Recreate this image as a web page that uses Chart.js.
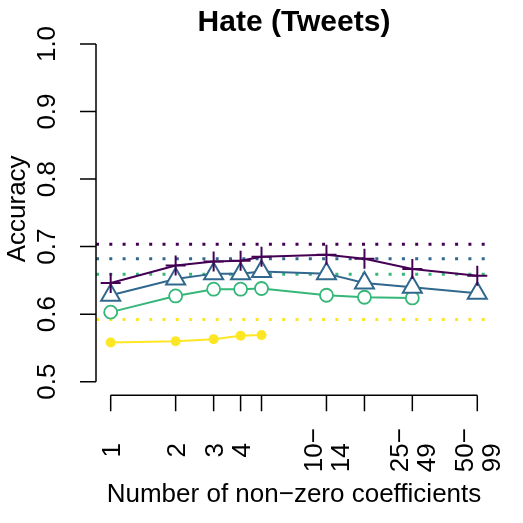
<!DOCTYPE html>
<html>
<head>
<meta charset="utf-8">
<script src="https://cdn.jsdelivr.net/npm/chart.js@4.4.1/dist/chart.umd.min.js"></script>
<style>
    body { margin: 0; background: #fff; }
</style>
</head>
<body>
<canvas id="hateChart" width="523" height="523"></canvas>
<script>
// number of non-zero coefficients (x positions, log scale)
const nonZero = [1, 2, 3, 4, 5, 10, 15, 25, 50];
const tickLabels = ['1', '2', '3', '4', '', '10−\n14', '', '25−\n49', '50−\n99'];
const yTicks = [0.5, 0.6, 0.7, 0.8, 0.9, 1.0];
const xLimits = [0.855, 58.5];
const yLimits = [0.48, 1.02];

// accuracy per series
const plusSeries = [0.646, 0.672, 0.678, 0.679, 0.685, 0.688, 0.682, 0.667, 0.657];
const triangleSeries = [0.628, 0.652, 0.660, 0.660, 0.663, 0.660, 0.646, 0.640, 0.631];
const circleSeries = [0.603, 0.627, 0.637, 0.637, 0.638, 0.628, 0.625, 0.624];
const dotSeries = [0.558, 0.560, 0.563, 0.568, 0.569];

// dotted reference levels, same colour order
const baselines = [0.7036, 0.682, 0.659, 0.592];
const colors = ['#440154', '#31688E', '#35B779', '#FDE725'];

const FONT = '"Liberation Sans", Arial, Helvetica, sans-serif';
const FS = 26;

const toPoints = values => values.map((v, i) => ({x: nonZero[i], y: v}));

const baselineSets = baselines.map((b, i) => ({
    data: [{x: xLimits[0], y: b}, {x: xLimits[1], y: b}],
    borderColor: colors[i],
    borderWidth: 3,
    borderDash: [3, 10.3],
    pointRadius: 0,
    order: 10 + i
}));

const rStyleAxes = {
    id: 'rStyleAxes',
    afterDraw(chart) {
        const {ctx, chartArea, scales: {x, y}} = chart;
        const left = chartArea.left;
        const bottom = chartArea.bottom;
        ctx.save();
        ctx.strokeStyle = '#000';
        ctx.fillStyle = '#000';
        ctx.lineWidth = 1.5;
        ctx.beginPath();
        // y axis
        ctx.moveTo(left, y.getPixelForValue(yTicks[0]));
        ctx.lineTo(left, y.getPixelForValue(yTicks[yTicks.length - 1]));
        yTicks.forEach(v => {
            const py = y.getPixelForValue(v);
            ctx.moveTo(left, py);
            ctx.lineTo(left - 16, py);
        });
        // x axis
        ctx.moveTo(x.getPixelForValue(nonZero[0]), bottom);
        ctx.lineTo(x.getPixelForValue(nonZero[nonZero.length - 1]), bottom);
        nonZero.forEach(v => {
            const px = x.getPixelForValue(v);
            ctx.moveTo(px, bottom);
            ctx.lineTo(px, bottom + 16);
        });
        ctx.stroke();

        ctx.font = FS + 'px ' + FONT;
        const capMid = FS * 0.358;
        // y tick labels, rotated
        yTicks.forEach(v => {
            ctx.save();
            ctx.translate(left - 41, y.getPixelForValue(v));
            ctx.rotate(-Math.PI / 2);
            ctx.textAlign = 'center';
            ctx.textBaseline = 'alphabetic';
            ctx.fillText(v.toFixed(1), 0, 0);
            ctx.restore();
        });
        // x tick labels, rotated, multi-line
        nonZero.forEach((v, i) => {
            if (!tickLabels[i]) return;
            const lines = tickLabels[i].split('\n');
            const w = Math.max(...lines.map(l => ctx.measureText(l).width));
            ctx.save();
            ctx.translate(x.getPixelForValue(v), bottom + 55);
            ctx.rotate(-Math.PI / 2);
            ctx.textAlign = 'left';
            ctx.textBaseline = 'alphabetic';
            lines.forEach((l, j) => {
                ctx.fillText(l, -w / 2, (j - (lines.length - 1) / 2) * 27 + capMid);
            });
            ctx.restore();
        });

        const midX = (chartArea.left + chartArea.right) / 2;
        const midY = (chartArea.top + chartArea.bottom) / 2;
        ctx.textAlign = 'center';
        ctx.fillText('Number of non−zero coefficients', midX, 502);
        ctx.save();
        ctx.translate(25, midY - 4);
        ctx.rotate(-Math.PI / 2);
        ctx.fillText('Accuracy', 0, 0);
        ctx.restore();

        ctx.font = 'bold 30px ' + FONT;
        ctx.fillText('Hate (Tweets)', midX, 31);
        ctx.restore();
    }
};

const ctx = document.getElementById('hateChart').getContext('2d');
const chart = new Chart(ctx, {
    type: 'line',
    data: {
        datasets: [
            {
                data: toPoints(plusSeries),
                borderColor: colors[0],
                borderWidth: 2,
                pointStyle: 'cross',
                pointRadius: 10,
                pointBorderWidth: 2,
                pointBorderColor: colors[0],
                order: 1
            },
            {
                data: toPoints(triangleSeries),
                borderColor: colors[1],
                borderWidth: 2,
                pointStyle: 'triangle',
                pointRadius: 11,
                pointBorderWidth: 2,
                pointBorderColor: colors[1],
                pointBackgroundColor: '#fff',
                order: 2
            },
            {
                data: toPoints(circleSeries),
                borderColor: colors[2],
                borderWidth: 2,
                pointStyle: 'circle',
                pointRadius: 6.5,
                pointBorderWidth: 1.8,
                pointBorderColor: colors[2],
                pointBackgroundColor: '#fff',
                order: 3
            },
            {
                data: toPoints(dotSeries),
                borderColor: colors[3],
                borderWidth: 2,
                pointStyle: 'circle',
                pointRadius: 5,
                pointBorderWidth: 0,
                pointBackgroundColor: colors[3],
                order: 4
            },
            ...baselineSets
        ]
    },
    options: {
        responsive: false,
        animation: false,
        devicePixelRatio: 1,
        layout: {padding: {left: 96, right: 31, top: 30.5, bottom: 127.8}},
        plugins: {legend: {display: false}, tooltip: {enabled: false}},
        elements: {line: {tension: 0}},
        scales: {
            x: {type: 'logarithmic', display: false, min: xLimits[0], max: xLimits[1]},
            y: {type: 'linear', display: false, min: yLimits[0], max: yLimits[1]}
        }
    },
    plugins: [rStyleAxes]
});
</script>
</body>
</html>
